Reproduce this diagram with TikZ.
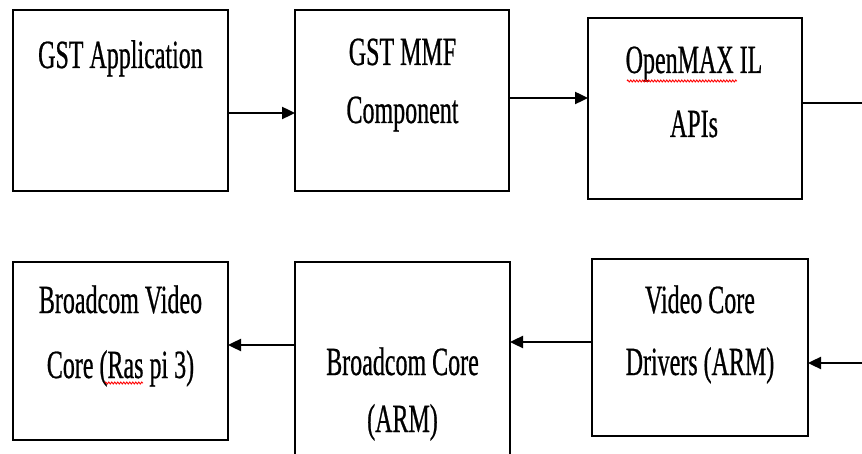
\documentclass[tikz,border=0pt]{standalone}
\usepackage{fontspec}
\usetikzlibrary{arrows.meta,calc,decorations.pathmorphing}
\newfontfamily\tnr[FakeStretch=0.6,FakeBold=0.6]{Liberation Serif}
\begin{document}
\begin{tikzpicture}[x=1pt,y=-1pt,
  box/.style={draw=black,line width=2.2pt,inner sep=0pt,outer sep=0pt,rectangle},
  lbl/.style={anchor=base,inner sep=0pt,font=\tnr\fontsize{40}{48}\selectfont},
  arr/.style={line width=2.4pt,-{Triangle[length=13pt,width=12pt]}},
  conn/.style={line width=2.4pt},
  squig/.style={red,line width=0.9pt,decorate,decoration={zigzag,segment length=3pt,amplitude=1pt}}]
\useasboundingbox (0,0) rectangle (862,454);
\clip (0,0) rectangle (862,454);
\fill[white] (0,0) rectangle (862,454);
% boxes
\node[box,minimum width=215pt,minimum height=181pt] (b1) at (120.5,100.5) {};
\node[box,minimum width=214pt,minimum height=181pt] (b2) at (402,100.5) {};
\node[box,minimum width=214pt,minimum height=181pt] (b3) at (695,108.5) {};
\node[box,minimum width=215pt,minimum height=178pt] (b4) at (120.5,351) {};
\node[box,minimum width=215pt,minimum height=218pt] (b5) at (402.5,371) {};
\node[box,minimum width=216pt,minimum height=177pt] (b6) at (700,347.5) {};
% labels
\node[lbl] (t1) at (120.5,68) {GST Application};
\node[lbl] (t2a) at (402.5,65) {GST MMF};
\node[lbl] (t2b) at (402.5,123) {Component};
\node[lbl] (t3a) at (694,73) {OpenMAX IL};
\node[lbl] (t3b) at (694,137) {APIs};
\node[lbl] (t4a) at (120.5,313) {Broadcom Video};
\node[lbl] (t4b) at (120.5,378) {Core (Ras pi 3)};
\node[lbl] (t5a) at (402.5,375) {Broadcom Core};
\node[lbl] (t5b) at (402.5,432) {(ARM)};
\node[lbl] (t6a) at (700,313) {Video Core};
\node[lbl] (t6b) at (700,375) {Drivers (ARM)};
% spell-check squiggles
\draw[squig] (627,81) -- (737,81);
\draw[squig] (105,383) -- (143,383);
% connectors
\coordinate (outR) at (866,103);
\coordinate (inR) at (866,363);
\draw[arr] ($(b1.east)+(0,12.5)$) -- ($(b2.west)+(0,12.5)$);
\draw[arr] ($(b2.east)+(0,-2.5)$) -- ($(b3.west)+(0,-10.5)$);
\draw[conn] (b3.east |- outR) -- (outR);
\draw[arr] (inR) -- (b6.east |- inR);
\draw[arr] ($(b6.west)+(0,-5.5)$) -- ($(b5.east)+(0,-29)$);
\draw[arr] ($(b5.west)+(0,-26)$) -- ($(b4.east)+(0,-6)$);
\end{tikzpicture}
\end{document}
